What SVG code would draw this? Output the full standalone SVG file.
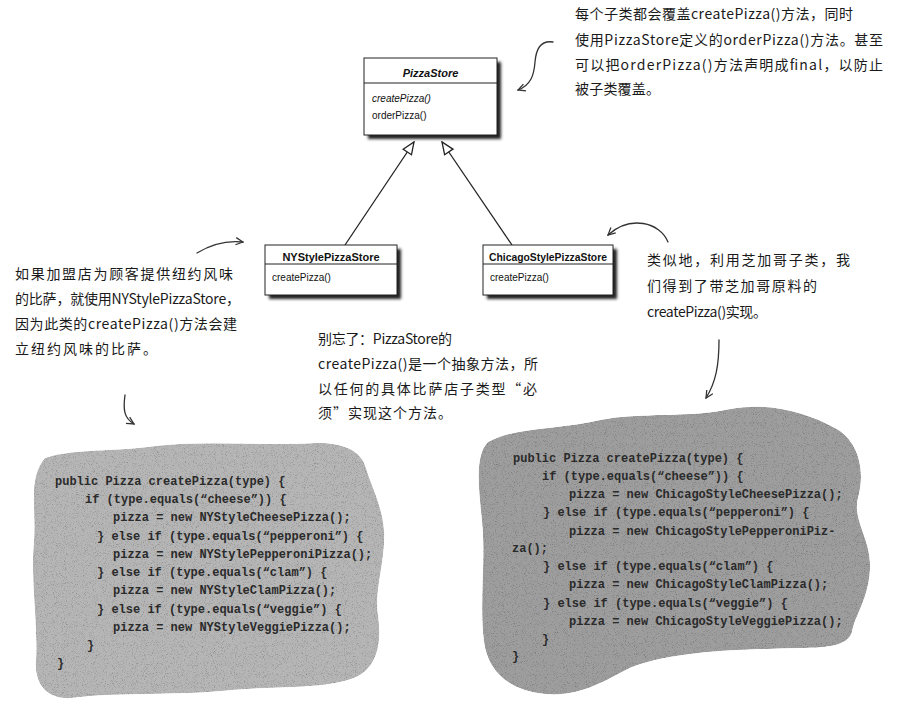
<svg xmlns="http://www.w3.org/2000/svg" width="898" height="710" viewBox="0 0 898 710">
<style>
.box{fill:#fff;stroke:#222;stroke-width:1}
.shadow{fill:#222;filter:url(#blur)}
.title{font-family:"Liberation Sans",Arial,sans-serif;font-size:11px;font-weight:bold;fill:#111}
.meth{font-family:"Liberation Sans",Arial,sans-serif;font-size:10px;fill:#111}
.note{font-family:"Noto Sans CJK SC","Noto Sans",sans-serif;font-size:14px;fill:#1a1a1a}
.code{font-family:"Liberation Mono","Courier New",monospace;font-size:12px;font-weight:bold;fill:#2a2a2a}
.conn{fill:none;stroke:#222;stroke-width:1.3}
.hand{fill:none;stroke:#333;stroke-width:1.3;stroke-linecap:round}
</style>
<defs>
<filter id="blur" x="-10%" y="-10%" width="120%" height="130%"><feGaussianBlur stdDeviation="1.5"/></filter>
<filter id="grain" x="0" y="0" width="100%" height="100%">
<feTurbulence type="fractalNoise" baseFrequency="1.1" numOctaves="2" seed="5" result="noise"/>
<feColorMatrix in="noise" type="matrix" values="1 0 0 0 0  1 0 0 0 0  1 0 0 0 0  0 0 0 0 1" result="gray"/>
<feComponentTransfer in="gray" result="g2"><feFuncR type="linear" slope="1.3" intercept="0.38"/><feFuncG type="linear" slope="1.3" intercept="0.38"/><feFuncB type="linear" slope="1.3" intercept="0.38"/></feComponentTransfer>
<feBlend in="SourceGraphic" in2="g2" mode="multiply" result="b"/>
<feComposite in="b" in2="SourceGraphic" operator="in"/>
</filter>
<marker id="tri" viewBox="0 0 14 12" refX="13" refY="6" markerWidth="14" markerHeight="12" orient="auto" markerUnits="userSpaceOnUse"><path d="M1,1 L13,6 L1,11 Z" fill="#fff" stroke="#222" stroke-width="1.3"/></marker>
<marker id="open" viewBox="0 0 10 10" refX="9" refY="5" markerWidth="9" markerHeight="9" orient="auto" markerUnits="userSpaceOnUse"><path d="M1,1 L9,5 L1,9" fill="none" stroke="#333" stroke-width="1.4"/></marker>
</defs>
<rect width="898" height="710" fill="#fff"/>

<g id="blob-ny">
<path fill="#b6b6b6" filter="url(#grain)" d="M45,458 C75,448 115,452 155,446 C205,440 265,446 315,443 C345,442 362,452 366,468 C372,488 382,505 384,530 C386,560 374,590 378,615 C382,642 378,668 354,678 C322,690 272,686 232,690 C182,696 112,692 72,698 C45,700 34,682 36,660 C38,620 30,580 34,540 C36,505 28,478 45,458 Z"/>
<text class="code" x="55" y="485">public Pizza createPizza(type) {</text>
<text class="code" x="85" y="503">if (type.equals(“cheese”)) {</text>
<text class="code" x="113" y="521">pizza = new NYStyleCheesePizza();</text>
<text class="code" x="97" y="540">} else if (type.equals(“pepperoni”) {</text>
<text class="code" x="113" y="558">pizza = new NYStylePepperoniPizza();</text>
<text class="code" x="97" y="576">} else if (type.equals(“clam”) {</text>
<text class="code" x="113" y="594">pizza = new NYStyleClamPizza();</text>
<text class="code" x="97" y="613">} else if (type.equals(“veggie”) {</text>
<text class="code" x="113" y="631">pizza = new NYStyleVeggiePizza();</text>
<text class="code" x="87" y="649">}</text>
<text class="code" x="57" y="667">}</text>
</g>

<g id="blob-chicago">
<path fill="#9e9e9e" filter="url(#grain)" d="M488,442 C518,426 560,430 600,420 C640,412 690,418 730,409 C770,402 805,412 835,428 C858,440 866,470 858,498 C852,520 872,540 870,570 C868,600 855,615 852,632 C848,645 830,648 800,648 C740,650 680,650 632,667 C602,682 580,697 545,694 C510,691 488,672 484,642 C479,602 486,562 482,522 C479,490 474,456 488,442 Z"/>
<text class="code" x="513" y="462">public Pizza createPizza(type) {</text>
<text class="code" x="542" y="480">if (type.equals(“cheese”)) {</text>
<text class="code" x="569" y="498">pizza = new ChicagoStyleCheesePizza();</text>
<text class="code" x="543" y="516">} else if (type.equals(“pepperoni”) {</text>
<text class="code" x="569" y="535">pizza = new ChicagoStylePepperoniPiz-</text>
<text class="code" x="512" y="552">za();</text>
<text class="code" x="543" y="570">} else if (type.equals(“clam”) {</text>
<text class="code" x="569" y="588">pizza = new ChicagoStyleClamPizza();</text>
<text class="code" x="543" y="607">} else if (type.equals(“veggie”) {</text>
<text class="code" x="569" y="625">pizza = new ChicagoStyleVeggiePizza();</text>
<text class="code" x="542" y="643">}</text>
<text class="code" x="512" y="660">}</text>
</g>

<g id="connectors">
<line class="conn" x1="345" y1="245" x2="414" y2="142" marker-end="url(#tri)"/>
<line class="conn" x1="512" y1="245" x2="442" y2="142" marker-end="url(#tri)"/>
</g>

<g id="annotation-arrows">
<path class="hand" d="M553,42 C540,40 536,50 535,62 C534,75 531,85 518,90" marker-end="url(#open)"/>
<path class="hand" d="M197,253 C210,245 225,240 243,242" marker-end="url(#open)"/>
<path class="hand" d="M668,242 C660,222 630,215 608,235" marker-end="url(#open)"/>
<path class="hand" d="M125,395 C123,410 124,418 134,424" marker-end="url(#open)"/>
<path class="hand" d="M719,340 C719,365 716,382 706,398" marker-end="url(#open)"/>
</g>

<g id="PizzaStore">
<rect class="shadow" x="368" y="62" width="133" height="77"/>
<rect class="box" x="364" y="58" width="133" height="77"/>
<line x1="364" y1="83" x2="497" y2="83" stroke="#222"/>
<text class="title" x="430.5" y="77" text-anchor="middle" font-style="italic">PizzaStore</text>
<text class="meth" x="372" y="102" font-style="italic">createPizza()</text>
<text class="meth" x="372" y="119">orderPizza()</text>
</g>

<g id="NYStylePizzaStore">
<rect class="shadow" x="269" y="249" width="132" height="50"/>
<rect class="box" x="265" y="245" width="132" height="50"/>
<line x1="265" y1="264" x2="397" y2="264" stroke="#222"/>
<text class="title" x="331" y="261" text-anchor="middle">NYStylePizzaStore</text>
<text class="meth" x="272" y="281">createPizza()</text>
</g>

<g id="ChicagoStylePizzaStore">
<rect class="shadow" x="487" y="249" width="130" height="50"/>
<rect class="box" x="483" y="245" width="130" height="50"/>
<line x1="483" y1="264" x2="613" y2="264" stroke="#222"/>
<text class="title" x="548" y="261" text-anchor="middle" textLength="118" lengthAdjust="spacingAndGlyphs">ChicagoStylePizzaStore</text>
<text class="meth" x="490" y="281">createPizza()</text>
</g>

<g id="note-top">
<text class="note" x="575" y="19" textLength="278">每个子类都会覆盖createPizza()方法，同时</text>
<text class="note" x="575" y="45" textLength="308">使用PizzaStore定义的orderPizza()方法。甚至</text>
<text class="note" x="575" y="70" textLength="308">可以把orderPizza()方法声明成final，以防止</text>
<text class="note" x="575" y="94" textLength="85">被子类覆盖。</text>
</g>

<g id="note-left">
<text class="note" x="15" y="279" textLength="218">如果加盟店为顾客提供纽约风味</text>
<text class="note" x="15" y="304" textLength="225">的比萨，就使用NYStylePizzaStore，</text>
<text class="note" x="15" y="329" textLength="222">因为此类的createPizza()方法会建</text>
<text class="note" x="15" y="354" textLength="142">立纽约风味的比萨。</text>
</g>

<g id="note-middle">
<text class="note" x="318" y="344" textLength="134">别忘了：PizzaStore的</text>
<text class="note" x="318" y="369" textLength="220">createPizza()是一个抽象方法，所</text>
<text class="note" x="318" y="394" textLength="219">以任何的具体比萨店子类型“必</text>
<text class="note" x="318" y="418" textLength="134">须”实现这个方法。</text>
</g>

<g id="note-right">
<text class="note" x="647" y="265" textLength="203">类似地，利用芝加哥子类，我</text>
<text class="note" x="647" y="291" textLength="170">们得到了带芝加哥原料的</text>
<text class="note" x="647" y="317" textLength="120">createPizza()实现。</text>
</g>
</svg>
